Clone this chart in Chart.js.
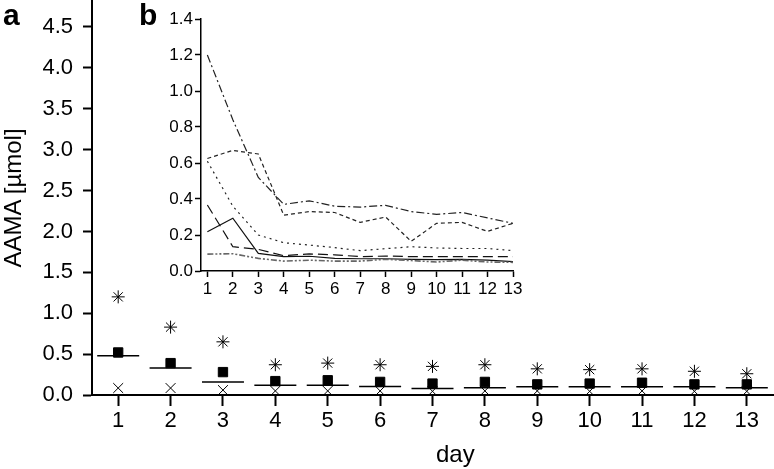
<!DOCTYPE html>
<html>
<head>
<meta charset="utf-8">
<script src="https://cdn.jsdelivr.net/npm/chart.js@4/dist/chart.umd.min.js"></script>
<style>
  body { margin: 0; background: #fff; font-family: "Liberation Sans", Arial, sans-serif; }
  #wrap { position: relative; width: 774px; height: 469px; overflow: hidden; }
  canvas { position: absolute; }
  .lbl { position: absolute; color: #000; white-space: nowrap; line-height: 1; }
</style>
</head>
<body>
<div id="wrap">
  <canvas id="mainChart" width="774" height="469" style="left:0;top:0"></canvas>
  <canvas id="insetChart" width="380" height="300" style="left:150px;top:5px"></canvas>
  <div class="lbl" style="left:3px;top:0px;font-size:30px;font-weight:bold">a</div>
  <div class="lbl" style="left:139px;top:0px;font-size:30px;font-weight:bold">b</div>
  <div class="lbl" style="left:436px;top:442px;font-size:24px">day</div>
  <div class="lbl" style="left:-62px;top:186px;width:150px;text-align:center;font-size:24px;transform:rotate(-90deg)">AAMA [µmol]</div>
</div>
<script>
// main panel (a)
const days = ['1', '2', '3', '4', '5', '6', '7', '8', '9', '10', '11', '12', '13']
const maxVals = [1.2, 0.83, 0.65, 0.37, 0.39, 0.37, 0.35, 0.37, 0.32, 0.31, 0.32, 0.29, 0.26]
const meanVals = [0.52, 0.39, 0.28, 0.17, 0.18, 0.16, 0.14, 0.16, 0.13, 0.14, 0.15, 0.13, 0.13]
const medianVals = [0.48, 0.33, 0.16, 0.12, 0.12, 0.105, 0.08, 0.09, 0.1, 0.1, 0.1, 0.1, 0.09]
const minVals = [0.085, 0.085, 0.06, 0.05, 0.05, 0.05, 0.045, 0.05, 0.05, 0.045, 0.05, 0.045, 0.045]
const yTicksMain = [0, 0.5, 1, 1.5, 2, 2.5, 3, 3.5, 4, 4.5]

// inset panel (b), one line per subject
const insetDays = [1, 2, 3, 4, 5, 6, 7, 8, 9, 10, 11, 12, 13]
const subjA = [1.2, 0.84, 0.52, 0.37, 0.39, 0.36, 0.355, 0.365, 0.33, 0.315, 0.325, 0.295, 0.265]
const subjB = [0.625, 0.67, 0.65, 0.31, 0.33, 0.325, 0.27, 0.3, 0.165, 0.265, 0.27, 0.22, 0.265]
const subjC = [0.61, 0.36, 0.2, 0.157, 0.144, 0.13, 0.113, 0.124, 0.135, 0.128, 0.125, 0.125, 0.113]
const subjD = [0.367, 0.135, 0.12, 0.085, 0.095, 0.09, 0.08, 0.083, 0.08, 0.08, 0.08, 0.08, 0.08]
const subjE = [0.218, 0.293, 0.098, 0.08, 0.082, 0.07, 0.068, 0.068, 0.065, 0.063, 0.065, 0.06, 0.052]
const subjF = [0.094, 0.096, 0.07, 0.055, 0.06, 0.055, 0.055, 0.065, 0.058, 0.05, 0.06, 0.05, 0.048]
const yTicksInset = [0, 0.2, 0.4, 0.6, 0.8, 1, 1.2, 1.4]

const FONT = "'Liberation Sans', Arial, sans-serif"

const pointSet = (data, style, radius, width) => ({
    data,
    showLine: false,
    pointStyle: style,
    pointRadius: radius,
    pointBorderWidth: width,
    pointBorderColor: '#000',
    pointBackgroundColor: '#000'
})

new Chart(document.getElementById('mainChart'), {
    type: 'line',
    data: {
        labels: days,
        datasets: [
            pointSet(medianVals, 'line', 21, 1.5),
            pointSet(minVals, 'crossRot', 7, 1),
            pointSet(meanVals, 'rect', 6.6, 1),
            pointSet(maxVals, 'star', 6.5, 1)
        ]
    },
    options: {
        responsive: false,
        animation: false,
        events: [],
        layout: { autoPadding: false, padding: { top: 0, right: 1, left: 0, bottom: 0 } },
        plugins: { legend: { display: false }, tooltip: { enabled: false } },
        scales: {
            x: {
                type: 'category',
                offset: true,
                border: { display: true, color: '#000', width: 2 },
                grid: { offset: false, drawOnChartArea: false, drawTicks: true, tickLength: 11, tickWidth: 2, tickColor: '#000' },
                ticks: { color: '#000', font: { family: FONT, size: 22 }, padding: 2, autoSkip: false, maxRotation: 0 },
                afterFit: (scale) => { scale.height = 74; scale.paddingLeft = 0; scale.paddingRight = 0 }
            },
            y: {
                min: 0,
                max: 4.83,
                border: { display: true, color: '#000', width: 2 },
                grid: { drawOnChartArea: false, drawTicks: true, tickLength: 9, tickWidth: 2, tickColor: '#000' },
                ticks: { color: '#000', font: { family: FONT, size: 22 }, padding: 10, callback: (v) => v.toFixed(1) },
                afterBuildTicks: (scale) => { scale.ticks = yTicksMain.map((v) => ({ value: v })) },
                afterFit: (scale) => { scale.width = 92; scale.paddingTop = 0; scale.paddingBottom = 0 }
            }
        }
    }
})

const lineSet = (vals, dash, color, width) => ({
    data: insetDays.map((d, i) => ({ x: d, y: vals[i] })),
    borderColor: color,
    borderWidth: width,
    borderDash: dash,
    pointRadius: 0,
    tension: 0,
    fill: false
})

new Chart(document.getElementById('insetChart'), {
    type: 'line',
    data: {
        datasets: [
            lineSet(subjF, [6, 2, 2, 2, 2, 2], '#666', 1.6),
            lineSet(subjE, [], '#111', 1.2),
            lineSet(subjD, [10, 5], '#111', 1.2),
            lineSet(subjC, [2, 4], '#222', 1.2),
            lineSet(subjB, [4, 3], '#222', 1.2),
            lineSet(subjA, [8, 3, 2, 3], '#222', 1.2)
        ]
    },
    options: {
        responsive: false,
        animation: false,
        events: [],
        layout: { autoPadding: false, padding: { top: 14, right: 17, left: 0, bottom: 0 } },
        plugins: { legend: { display: false }, tooltip: { enabled: false } },
        scales: {
            x: {
                type: 'linear',
                min: 0.75,
                max: 13,
                border: { display: true, color: '#000', width: 1.5 },
                grid: { drawOnChartArea: false, drawTicks: true, tickLength: 6, tickWidth: 1.5, tickColor: '#000' },
                ticks: { color: '#000', font: { family: FONT, size: 17 }, padding: 2, autoSkip: false, maxRotation: 0 },
                afterBuildTicks: (scale) => { scale.ticks = insetDays.map((v) => ({ value: v })) },
                afterFit: (scale) => { scale.height = 34; scale.paddingLeft = 0; scale.paddingRight = 0 }
            },
            y: {
                min: 0,
                max: 1.4,
                border: { display: true, color: '#000', width: 1.5 },
                grid: { drawOnChartArea: false, drawTicks: true, tickLength: 6, tickWidth: 1.5, tickColor: '#000' },
                ticks: { color: '#000', font: { family: FONT, size: 17 }, padding: 2, callback: (v) => v.toFixed(1) },
                afterBuildTicks: (scale) => { scale.ticks = yTicksInset.map((v) => ({ value: v })) },
                afterFit: (scale) => { scale.width = 51; scale.paddingTop = 0; scale.paddingBottom = 0 }
            }
        }
    }
})
</script>
</body>
</html>
